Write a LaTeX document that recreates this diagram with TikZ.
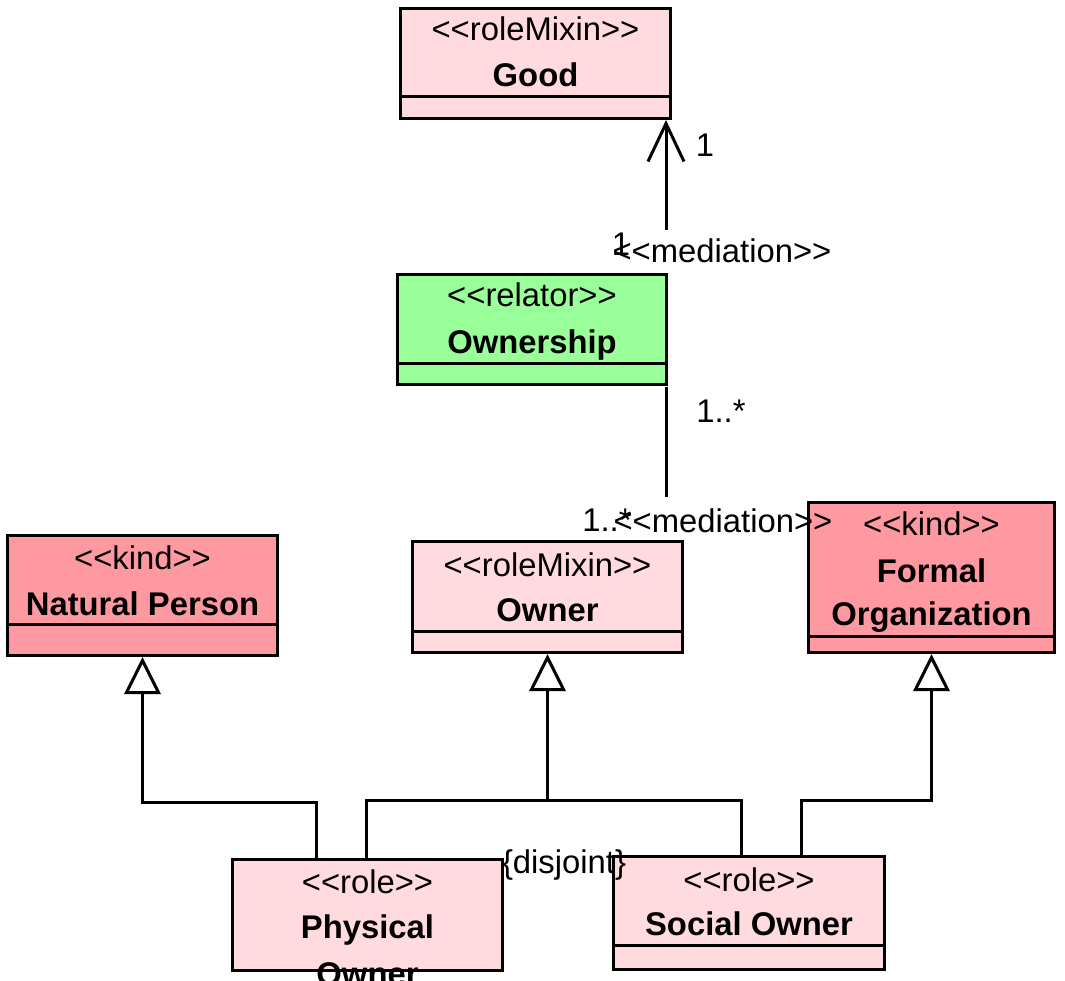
\documentclass[tikz,border=0pt]{standalone}
\usepackage{fontspec}
\setmainfont{Liberation Sans}[Ligatures=TeXOff]
\usetikzlibrary{arrows.meta}
\definecolor{rolepink}{RGB}{255,218,223}
\definecolor{kindpink}{RGB}{255,153,161}
\definecolor{relgreen}{RGB}{153,255,153}
\tikzset{
  classbox/.style={draw=black, line width=3pt, anchor=north west, inner sep=0pt},
  divline/.style={line width=3pt},
  stereo/.style={anchor=base, inner sep=0pt, font=\fontsize{32.8}{38}\selectfont},
  cname/.style={anchor=base, inner sep=0pt, font=\fontsize{32.8}{38}\selectfont\bfseries},
  lbl/.style={inner sep=0pt, font=\fontsize{32.8}{38}\selectfont},
  assoc/.style={line width=3pt, -{Straight Barb[length=38pt,width=36pt]}},
  gen/.style={line width=3pt, -{Triangle[open,length=37pt,width=36pt]}},
  genline/.style={line width=3pt}
}
\begin{document}
\begin{tikzpicture}[x=1pt,y=-1pt]
	\useasboundingbox (0,0) rectangle (1065,981);
	% classes
	\node[classbox, fill=rolepink, minimum width=270pt, minimum height=110pt] (good) at (399,7) {};%Good
	\node[classbox, fill=relgreen, minimum width=269pt, minimum height=110pt] (ownership) at (396,273) {};%Ownership
	\node[classbox, fill=kindpink, minimum width=270pt, minimum height=120pt] (natural) at (6,534) {};%Natural Person
	\node[classbox, fill=rolepink, minimum width=270pt, minimum height=111pt] (owner) at (411,540) {};%Owner
	\node[classbox, fill=kindpink, minimum width=246pt, minimum height=150pt] (formal) at (807,501) {};%Formal Organization
	\node[classbox, fill=rolepink, minimum width=270pt, minimum height=111pt] (physical) at (231,858) {};%Physical Owner
	\node[classbox, fill=rolepink, minimum width=271pt, minimum height=113pt] (social) at (612,855) {};%Social Owner
	
	\draw[divline] ([yshift=-90pt]good.north west) -- ([yshift=-90pt]good.north east);
	\draw[divline] ([yshift=-90pt]ownership.north west) -- ([yshift=-90pt]ownership.north east);
	\draw[divline] ([yshift=-90pt]natural.north west) -- ([yshift=-90pt]natural.north east);
	\draw[divline] ([yshift=-91pt]owner.north west) -- ([yshift=-91pt]owner.north east);
	\draw[divline] ([yshift=-135pt]formal.north west) -- ([yshift=-135pt]formal.north east);
	\draw[divline] ([yshift=-90pt]social.north west) -- ([yshift=-90pt]social.north east);
	
	% connectors
	\coordinate (m1) at (666,230);%mediation, top end
	\coordinate (m2) at (666,387);%mediation, under Ownership
	\coordinate (m3) at (666,497);%mediation, bottom end
	\coordinate (g1) at (316,802);%Physical Owner -> Natural Person
	\coordinate (g2) at (366,800);%Physical Owner -> Owner
	\coordinate (g3) at (741,800);%Social Owner -> Owner
	\coordinate (g4) at (801,800);%Social Owner -> Formal Organization
	
	\draw[assoc] (m1) -- (m1 |- good.south);
	\draw[genline] (m2) -- (m3);
	\draw[gen] (g1 |- physical.north) -- (g1) -| (natural.south);
	\draw[genline] (g2 |- physical.north) -- (g2) -- (g3) -- (g3 |- social.north);
	\draw[gen] (owner.south |- g2) -- (owner.south);
	\draw[gen] (g4 |- social.north) -- (g4) -| (formal.south);
	
	% texts
	\node[stereo] (goodSt) at ([yshift=-34pt]good.north) {<<roleMixin>>};
	\node[cname] (goodNm) at ([yshift=-80pt]good.north) {Good};
	\node[stereo] (ownershipSt) at ([yshift=-34pt]ownership.north) {<<relator>>};
	\node[cname] (ownershipNm) at ([yshift=-80pt]ownership.north) {Ownership};
	\node[stereo] (naturalSt) at ([yshift=-35pt]natural.north) {<<kind>>};
	\node[cname] (naturalNm) at ([yshift=-81pt]natural.north) {Natural Person};
	\node[stereo] (ownerSt) at ([yshift=-36pt]owner.north) {<<roleMixin>>};
	\node[cname] (ownerNm) at ([yshift=-81pt]owner.north) {Owner};
	\node[stereo] (formalSt) at ([yshift=-34pt]formal.north) {<<kind>>};
	\node[cname] (formalNm) at ([yshift=-81pt]formal.north) {Formal};
	\node[cname] (formalNm2) at ([yshift=-124pt]formal.north) {Organization};
	\node[stereo] (physicalSt) at ([yshift=-35pt]physical.north) {<<role>>};
	\node[cname] (physicalNm) at ([yshift=-80pt]physical.north) {Physical};
	\node[cname] (physicalNm2) at ([yshift=-127pt]physical.north) {Owner};
	\node[stereo] (socialSt) at ([yshift=-36pt]social.north) {<<role>>};
	\node[cname] (socialNm) at ([yshift=-80pt]social.north) {Social Owner};
	
	\node[lbl] (multGood) at (705,145) {1};
	\node[lbl, anchor=base] (multOwnA) at (621,256) {1};
	\node[lbl, anchor=base] (medA) at (722,263) {<<mediation>>};
	\node[lbl, anchor=base] (multOwnB) at (721,422) {1..*};
	\node[lbl, anchor=base] (multOwner) at (607,531) {1..*};
	\node[lbl, anchor=base] (medB) at (723,532) {<<mediation>>};
	\node[lbl, anchor=base] (disj) at (564,873) {\{disjoint\}};
\end{tikzpicture}
\end{document}
